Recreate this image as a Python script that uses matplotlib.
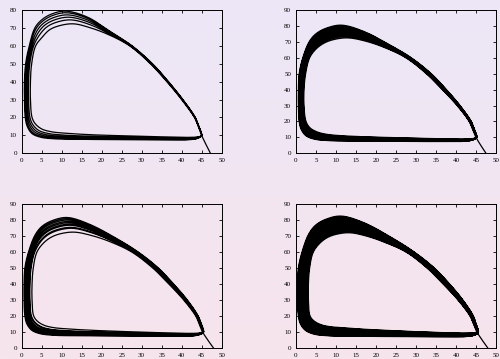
import numpy as np
import matplotlib.pyplot as plt

# Loop outlines, (x, y), starting at the hook near (45, 10),
# up the right side, over the top, down the left side and back along the bottom.
# panel 1 (top left)
outer1_x = [45.0, 44.3, 43.4, 40.3, 36.7, 32.7, 27.6, 22.5, 16.5, 11.0, 7.5, 5.0, 3.3, 1.9, 1.0, 0.7, 0.7, 0.9, 1.4, 2.6, 4.7, 8.0, 15.0, 25.0, 35.0, 42.0, 43.8, 44.7]
outer1_y = [10, 15, 20, 30, 40, 50, 60, 67.5, 76.0, 79.4, 77.8, 74.5, 70, 60, 50, 40, 30, 20, 15, 11, 9, 8.1, 7.8, 7.6, 7.5, 7.6, 8.2, 9.2]
inner1_x = [45.0, 44.2, 43.2, 40.0, 36.3, 32.2, 27.0, 22.0, 17.3, 13.0, 9.5, 7.0, 5.2, 3.5, 2.5, 2.2, 2.2, 2.6, 3.4, 5.0, 7.5, 11.0, 17.0, 25.0, 35.0, 42.0, 43.8, 44.7]
inner1_y = [10, 15, 20, 30, 40, 50, 60, 66, 70, 72.3, 71.3, 69, 65, 60, 50, 40, 30, 20, 16.5, 13.6, 12, 11.2, 10.4, 9.8, 9.2, 8.9, 9.1, 9.5]
peaks1 = [72.3, 74.5, 76.0, 77.3, 78.5, 79.4]

# panel 2 (top right)
outer2_x = [45.2, 44.6, 43.8, 41.0, 37.6, 33.8, 28.8, 23.5, 17.0, 11.5, 8.0, 5.2, 3.4, 1.7, 0.8, 0.6, 0.6, 0.8, 1.3, 2.5, 4.6, 8.0, 15.0, 25.0, 35.0, 42.0, 43.8, 44.8]
outer2_y = [10, 15, 20, 30, 40, 50, 60, 68, 76.5, 80.5, 79, 75.5, 70.5, 60, 50, 40, 30, 20, 15, 11, 8.9, 8.0, 7.7, 7.5, 7.4, 7.5, 8.1, 9.1]
inner2_x = [45.0, 44.2, 43.3, 40.3, 36.6, 32.6, 27.5, 22.3, 17.5, 13.0, 9.5, 7.0, 5.0, 3.4, 2.4, 2.0, 2.0, 2.5, 3.5, 5.2, 7.5, 11.0, 17.0, 25.0, 35.0, 42.0, 43.8, 44.7]
inner2_y = [10, 15, 20, 30, 40, 50, 60, 66.3, 70.4, 72.5, 71.5, 69.2, 65.5, 60, 50, 40, 30, 20, 16, 13.5, 12, 11.1, 10.4, 9.8, 9.2, 8.9, 9.1, 9.5]
peaks2 = [72.5, 73.3, 74.0, 74.7, 75.4, 76.0, 76.6, 77.2, 77.7, 78.2, 78.7, 79.2, 79.6, 80.0, 80.5]

# panel 3 (bottom left)
outer3_x = [45.5, 44.9, 44.1, 41.4, 38.0, 34.2, 29.2, 23.8, 17.0, 11.5, 8.0, 5.2, 3.4, 1.7, 0.8, 0.6, 0.6, 0.8, 1.3, 2.5, 4.6, 8.0, 15.0, 25.0, 35.0, 42.5, 44.2, 45.2]
outer3_y = [10, 15, 20, 30, 40, 50, 60, 68.5, 77.5, 81.8, 80.2, 76.5, 71, 60, 50, 40, 30, 20, 15, 11, 8.8, 7.8, 7.5, 7.3, 7.2, 7.3, 8.0, 9.0]
inner3_x = [45.2, 44.4, 43.5, 40.5, 36.8, 32.8, 27.6, 22.4, 17.6, 13.2, 9.7, 7.3, 5.4, 3.8, 2.9, 2.6, 2.6, 3.0, 4.0, 5.7, 8.0, 11.5, 17.0, 25.0, 35.0, 42.5, 44.3, 45.0]
inner3_y = [10, 15, 20, 30, 40, 50, 60, 66.3, 70.4, 72.6, 71.6, 69.3, 65.6, 60, 50, 40, 30, 20, 16.5, 14, 12.6, 11.8, 11, 10.2, 9.4, 9.0, 9.2, 9.6]
peaks3 = [72.6, 75.0, 75.6, 76.9, 77.6, 78.5, 79.3, 80.2, 81.0, 81.8]

# panel 4 (bottom right)
outer4_x = [45.6, 45.0, 44.3, 41.7, 38.4, 34.6, 29.6, 24.0, 17.0, 11.3, 7.8, 5.0, 3.2, 1.5, 0.6, 0.4, 0.4, 0.6, 1.1, 2.3, 4.4, 8.0, 15.0, 25.0, 35.0, 42.5, 44.4, 45.3]
outer4_y = [10, 15, 20, 30, 40, 50, 60, 69, 78.5, 82.7, 81, 77.2, 71.5, 60, 50, 40, 30, 20, 15, 11, 8.6, 7.5, 7.2, 7.0, 6.9, 7.0, 7.7, 8.8]
inner4_x = [45.2, 44.4, 43.5, 40.5, 36.8, 32.8, 27.6, 22.4, 17.8, 13.5, 10.0, 7.7, 5.9, 4.3, 3.4, 3.1, 3.1, 3.5, 4.5, 6.2, 8.5, 12.0, 17.0, 25.0, 35.0, 42.5, 44.3, 45.0]
inner4_y = [10, 15, 20, 30, 40, 50, 60, 66, 70, 72.2, 71.2, 69, 65.5, 60, 50, 40, 30, 20, 16.8, 14.5, 13.2, 12.5, 11.6, 10.6, 9.6, 9.1, 9.3, 9.6]
peaks4 = [72.2, 72.8, 73.3, 73.8, 74.2, 74.6, 75.0, 75.4, 75.8, 76.2, 76.6, 77.0, 77.4, 77.8, 78.1,
          78.4, 78.7, 79.0, 79.3, 79.6, 79.9, 80.2, 80.5, 80.8, 81.1, 81.4, 81.7, 82.0, 82.3, 82.7]

# where the trajectory starts on the x axis
starts = [47.2, 47.5, 47.9, 47.9]
ytops = [80, 90, 90, 90]


def trajectory(ix, iy, ox, oy, peaks, x0):
    ix, iy, ox, oy = [np.asarray(a, dtype=float) for a in (ix, iy, ox, oy)]
    lo, hi = iy.max(), oy.max()
    xs, ys = [x0], [0.0]
    for p in peaks:
        w = (p - lo) / (hi - lo)
        xs.extend(ix + w * (ox - ix))
        ys.extend(iy + w * (oy - iy))
    xs.append(ox[0])
    ys.append(oy[0])
    return np.array(xs), np.array(ys)


def smooth(xs, ys, sx, sy, n=10):
    # centripetal catmull-rom through the points, done in pixel-like units
    P = np.column_stack([xs * sx, ys * sy])
    P = np.vstack([P[0], P, P[-1]])
    out = []
    for i in range(1, len(P) - 2):
        p0, p1, p2, p3 = P[i - 1], P[i], P[i + 1], P[i + 2]
        t0 = 0.0
        t1 = t0 + max(np.linalg.norm(p1 - p0), 1e-6) ** 0.5
        t2 = t1 + max(np.linalg.norm(p2 - p1), 1e-6) ** 0.5
        t3 = t2 + max(np.linalg.norm(p3 - p2), 1e-6) ** 0.5
        for t in np.linspace(t1, t2, n, endpoint=False):
            a1 = (t1 - t) / (t1 - t0) * p0 + (t - t0) / (t1 - t0) * p1
            a2 = (t2 - t) / (t2 - t1) * p1 + (t - t1) / (t2 - t1) * p2
            a3 = (t3 - t) / (t3 - t2) * p2 + (t - t2) / (t3 - t2) * p3
            b1 = (t2 - t) / (t2 - t0) * a1 + (t - t0) / (t2 - t0) * a2
            b2 = (t3 - t) / (t3 - t1) * a2 + (t - t1) / (t3 - t1) * a3
            out.append((t2 - t) / (t2 - t1) * b1 + (t - t1) / (t2 - t1) * b2)
    out.append(P[-2])
    out = np.array(out)
    return out[:, 0] / sx, out[:, 1] / sy


panels = [
    (inner1_x, inner1_y, outer1_x, outer1_y, peaks1),
    (inner2_x, inner2_y, outer2_x, outer2_y, peaks2),
    (inner3_x, inner3_y, outer3_x, outer3_y, peaks3),
    (inner4_x, inner4_y, outer4_x, outer4_y, peaks4),
]
boxes = [[0.0433, 0.573, 0.4, 0.399], [0.592, 0.573, 0.4, 0.399],
         [0.0433, 0.0315, 0.4, 0.399], [0.592, 0.0315, 0.4, 0.399]]

fig = plt.figure(figsize=(5, 3.59), dpi=100)

# lavender to pink background
bg = fig.add_axes([0, 0, 1, 1], zorder=-10)
top = np.array([236, 231, 247]) / 255
bot = np.array([247, 228, 236]) / 255
t = np.linspace(0, 1, 256)[:, None, None]
bg.imshow(top * (1 - t) + bot * t, aspect="auto", extent=[0, 1, 0, 1])
bg.axis("off")

for k, (ix, iy, ox, oy, pk) in enumerate(panels):
    ax = fig.add_axes(boxes[k])
    ax.set_facecolor("none")
    xs, ys = trajectory(ix, iy, ox, oy, pk, starts[k])
    xs, ys = smooth(xs, ys, 4.0, 143.3 / ytops[k])
    ax.plot(xs, ys, color="black", lw=0.9, solid_joinstyle="round")
    ax.set_xlim(0, 50)
    ax.set_ylim(0, ytops[k])
    ax.set_xticks(range(0, 51, 5))
    ax.set_yticks(range(0, ytops[k] + 1, 10))
    ax.tick_params(direction="in", top=True, right=True, length=2, width=0.6,
                   labelsize=5, pad=3.5)
    for lab in ax.get_xticklabels() + ax.get_yticklabels():
        lab.set_family("Liberation Serif")
    for s in ax.spines.values():
        s.set_linewidth(0.7)

fig.savefig("out.png", dpi=100)
